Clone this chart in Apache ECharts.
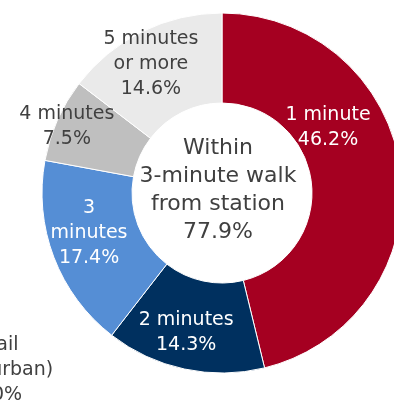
<!DOCTYPE html>
<html>
<head>
<meta charset="utf-8">
<script src="https://cdn.jsdelivr.net/npm/echarts@6/dist/echarts.min.js"></script>
<style>
  html, body { margin: 0; padding: 0; background: #fff; }
  #chart { width: 394px; height: 401px; }
</style>
</head>
<body>
<div id="chart"></div>
<script>
// walking time to nearest station (share %)
const categories = ['1 minute', '2 minutes', '3\nminutes', '4 minutes', '5 minutes\nor more'];
const shares = [46.2, 14.3, 17.4, 7.5, 14.6];
const centerLines = ['Within', '3-minute walk', 'from station', '77.9%'];
// neighbouring chart, cropped at the left edge
const sideLines = ['Rail', '(suburban)', '90%'];

// slice styling
const colors = ['#A50021', '#00305F', '#558ED5', '#BFBFBF', '#EAEAEA'];
const labelColors = ['#fff', '#fff', '#fff', '#404040', '#404040'];
const labelShift = [[-31, -49], [-7, 5], [-4, -9], [-29, -10], [-10, -5]];

const FONT = '"DejaVu Sans", Verdana, sans-serif';

const myChart = echarts.init(document.getElementById('chart'));

const option = {
  animation: false,
  series: [{
    type: 'pie',
    center: [222, 193],
    radius: [90, 180],
    startAngle: 90,
    clockwise: true,
    avoidLabelOverlap: false,
    itemStyle: { borderColor: '#fff', borderWidth: 1 },
    label: {
      show: true,
      position: 'inside',
      formatter: '{b}\n{c}%',
      fontFamily: FONT,
      fontSize: 19,
      lineHeight: 25,
      align: 'center'
    },
    labelLine: { show: false },
    labelLayout: function (p) {
      return { dx: labelShift[p.dataIndex][0], dy: labelShift[p.dataIndex][1] };
    },
    data: categories.map((c, i) => ({
      name: c,
      value: shares[i],
      itemStyle: { color: colors[i] },
      label: { color: labelColors[i] }
    }))
  }],
  graphic: [
    {
      type: 'text',
      style: {
        text: centerLines.join('\n'),
        x: 218, y: 190,
        align: 'center', verticalAlign: 'middle',
        font: '22px ' + FONT,
        lineHeight: 28,
        fill: '#404040'
      }
    },
    {
      type: 'text',
      style: {
        text: sideLines.join('\n'),
        x: 1, y: 370,
        align: 'center', verticalAlign: 'middle',
        font: '19px ' + FONT,
        lineHeight: 25,
        fill: '#404040'
      }
    }
  ]
};

myChart.setOption(option);
</script>
</body>
</html>
